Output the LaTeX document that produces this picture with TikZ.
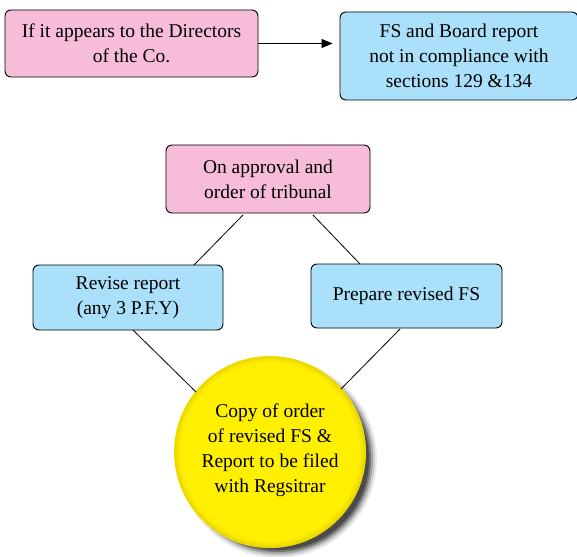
\documentclass[tikz,border=0pt]{standalone}
\usepackage{fontspec}
\setmainfont{Liberation Serif}
\usetikzlibrary{arrows.meta,shadows,shapes.geometric}
\definecolor{pinkbox}{RGB}{247,188,216}
\definecolor{bluebox}{RGB}{170,224,250}
\definecolor{ballyellow}{RGB}{255,240,0}
\definecolor{balledge}{RGB}{215,195,0}
\tikzset{
  x=1pt, y=-1pt,
  txt/.style={font=\fontsize{19.5}{25}\selectfont},
  box/.style={draw, rounded corners=6pt, line width=0.9pt, align=center,
    inner sep=0pt, txt},
  pinkstep/.style={box, fill=pinkbox},
  bluestep/.style={box, fill=bluebox},
  link/.style={line width=0.8pt},
}
\begin{document}
\begin{tikzpicture}
\useasboundingbox (0,0) rectangle (577,556);
% top row
\node[pinkstep, minimum width=253pt, minimum height=67pt] (dir) at (131.5,43.5)
  {If it appears to the Directors\\of the Co.};
\node[bluestep, minimum width=238pt, minimum height=88pt] (fs) at (459,56)
  {FS and Board report\\not in compliance with\\sections 129 \&134};
\draw[link, -{Triangle[length=11pt,width=9pt]}, shorten >=7pt] (dir.east) -- (fs.west|-dir.east);
% tribunal approval and its two branches
\node[pinkstep, minimum width=204pt, minimum height=68pt] (trib) at (268,179)
  {On approval and\\order of tribunal};
\node[bluestep, minimum width=190pt, minimum height=65pt] (rev) at (128,297.5)
  {Revise report\\(any 3 P.F.Y)};
\node[bluestep, minimum width=191pt, minimum height=64pt] (prep) at (406.5,296)
  {Prepare revised FS};
% filing disc with a soft drop shadow and a shaded rim
\foreach \r/\o in {99/0.08,97/0.12,95/0.2,93/0.3,91/0.35} {
  \fill[black, opacity=\o] (278,459) circle (\r pt);
}
\node[circle, minimum size=192pt, inner sep=0pt, fill=ballyellow] (copy) at (270,452) {};
\foreach \r/\o in {95/0.5,93.5/0.35,92/0.2,90.5/0.1} {
  \draw[balledge, line width=1.6pt, opacity=\o] (copy.center) circle (\r pt);
}
\node[txt, align=center] (copytext) at (270,450)
  {Copy of order\\of revised FS \&\\Report to be filed\\with Regsitrar};
\coordinate (t1) at (243,215);
\coordinate (t2) at (313,215);
\draw[link] (t1) -- (194,265) coordinate (r1);
\draw[link] (t2) -- (360,264) coordinate (p1);
\draw[link] (133,330) coordinate (r2) -- (196,392) coordinate (c1);
\draw[link] (400,329) coordinate (p2) -- (341,389) coordinate (c2);
\end{tikzpicture}
\end{document}
